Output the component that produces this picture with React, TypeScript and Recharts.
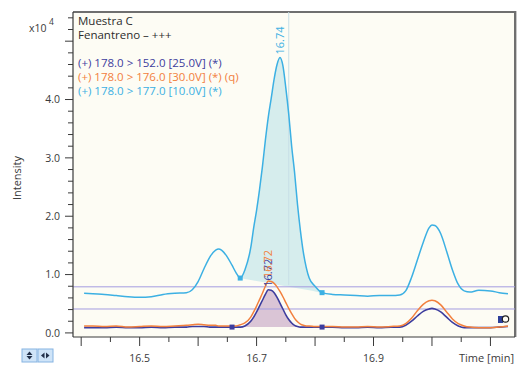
import React from "react"
import { ComposedChart, Line, Area, Scatter, XAxis, YAxis, ReferenceLine } from "recharts"

// retention time axis (min)
const time = [
  16.405, 16.42, 16.44, 16.46, 16.48, 16.5, 16.52, 16.54, 16.56, 16.58,
  16.59, 16.6, 16.61, 16.62, 16.63, 16.635, 16.64, 16.65, 16.658, 16.665,
  16.672, 16.68, 16.69, 16.695, 16.7, 16.705, 16.71, 16.715, 16.72, 16.725,
  16.73, 16.735, 16.74, 16.745, 16.75, 16.755, 16.76, 16.765, 16.77, 16.775,
  16.78, 16.785, 16.79, 16.8, 16.812, 16.83, 16.85, 16.87, 16.89, 16.91,
  16.93, 16.945, 16.955, 16.965, 16.975, 16.985, 16.995, 17.0, 17.005, 17.015,
  17.025, 17.035, 17.045, 17.055, 17.065, 17.08, 17.1, 17.115, 17.13,
]

// intensities, x10^4
const ion177 = [
  0.68, 0.67, 0.66, 0.64, 0.62, 0.61, 0.62, 0.66, 0.68, 0.69,
  0.74, 0.88, 1.1, 1.3, 1.42, 1.44, 1.42, 1.3, 1.16, 1.03,
  0.94, 1.08, 1.46, 1.8, 2.1, 2.45, 2.85, 3.3, 3.7, 4.02,
  4.35, 4.6, 4.72, 4.58, 4.2, 3.75, 3.2, 2.75, 2.2, 1.75,
  1.38, 1.12, 0.94, 0.8, 0.69, 0.66, 0.65, 0.64, 0.63, 0.64,
  0.64, 0.65, 0.72, 0.95, 1.25, 1.55, 1.8, 1.85, 1.84, 1.7,
  1.4, 1.08, 0.83, 0.72, 0.7, 0.73, 0.72, 0.69, 0.67,
]
const ion176 = [
  0.12, 0.12, 0.11, 0.12, 0.1, 0.11, 0.12, 0.11, 0.12, 0.13,
  0.14, 0.15, 0.14, 0.13, 0.13, 0.12, 0.12, 0.12, 0.12, 0.12,
  0.14, 0.17, 0.27, 0.36, 0.46, 0.57, 0.68, 0.8, 0.89, 0.88,
  0.85, 0.79, 0.71, 0.62, 0.52, 0.42, 0.33, 0.25, 0.19, 0.15,
  0.13, 0.12, 0.12, 0.11, 0.11, 0.11, 0.1, 0.1, 0.11, 0.1,
  0.11, 0.12, 0.16, 0.25, 0.38, 0.49, 0.55, 0.56, 0.55, 0.48,
  0.36, 0.24, 0.16, 0.12, 0.1, 0.09, 0.09, 0.1, 0.12,
]
const ion152 = [
  0.09, 0.09, 0.09, 0.1, 0.09, 0.09, 0.1, 0.09, 0.1, 0.1,
  0.11, 0.11, 0.11, 0.1, 0.1, 0.1, 0.1, 0.1, 0.1, 0.1,
  0.1, 0.12, 0.2, 0.27, 0.36, 0.46, 0.56, 0.66, 0.74, 0.73,
  0.69, 0.61, 0.51, 0.41, 0.31, 0.23, 0.17, 0.13, 0.11, 0.1,
  0.1, 0.1, 0.1, 0.1, 0.1, 0.1, 0.09, 0.09, 0.1, 0.09,
  0.1, 0.1, 0.13, 0.2, 0.29, 0.37, 0.41, 0.42, 0.41, 0.36,
  0.27, 0.18, 0.12, 0.09, 0.09, 0.09, 0.09, 0.1, 0.11,
]

// integration start/end points
const baseTimes177 = [16.672, 16.812]
const baseTimes152 = [16.658, 16.812]
const thresholds = [0.79, 0.41]
const rtMarker = 16.755

const xTicks = [16.4, 16.45, 16.5, 16.55, 16.6, 16.65, 16.7, 16.75, 16.8, 16.85, 16.9, 16.95, 17.0, 17.05, 17.1]
const xTickLabels = ["16.5", "16.7", "16.9"]
const yTicks = [0, 0.2, 0.4, 0.6, 0.8, 1, 1.2, 1.4, 1.6, 1.8, 2, 2.2, 2.4, 2.6, 2.8, 3, 3.2, 3.4, 3.6, 3.8, 4, 4.2, 4.4, 4.6, 4.8, 5, 5.2, 5.4]
const yTickLabels = ["0.0", "1.0", "2.0", "3.0", "4.0"]

const C177 = "#3cb0e3"
const C176 = "#f2803e"
const C152 = "#3d3d9e"
const FILL177 = "#d6eded"
const FILL152 = "#dac5d6"
const THRESH = "#a49ce0"
const INK = "#3a3a3a"
const FONT = '"Open Sans", "DejaVu Sans", sans-serif'

const legendLines = [
  { text: "(+) 178.0 > 152.0 [25.0V] (*)", color: C152 },
  { text: "(+) 178.0 > 176.0 [30.0V] (*) (q)", color: C176 },
  { text: "(+) 178.0 > 177.0 [10.0V] (*)", color: C177 },
]

const idx = (t: number) => time.findIndex((x) => Math.abs(x - t) < 1e-9)

// shaded peak area: curve down to the straight baseline between the two markers
const band = (series: number[], times: number[]) => {
  const [t0, t1] = times
  const v0 = series[idx(t0)]
  const v1 = series[idx(t1)]
  return time.map((t, i) =>
    t < t0 - 1e-9 || t > t1 + 1e-9 ? null : [v0 + ((v1 - v0) * (t - t0)) / (t1 - t0), series[i]]
  )
}

const band177 = band(ion177, baseTimes177)
const band152 = band(ion152, baseTimes152)

const rows = time.map((t, i) => ({
  t,
  ion177: ion177[i],
  ion176: ion176[i],
  ion152: ion152[i],
  band177: band177[i],
  band152: band152[i],
}))

const markers177 = baseTimes177.map((t) => ({ t, v: ion177[idx(t)] }))
const markers152 = baseTimes152.map((t) => ({ t, v: ion152[idx(t)] }))

// apex of the main peak of each trace, in the 16.6 - 16.8 window
const apex = (series: number[], color: string) => {
  let best = -1
  time.forEach((t, i) => {
    if (t > 16.6 && t < 16.8 && (best < 0 || series[i] > series[best])) best = i
  })
  return { t: time[best], v: series[best], color }
}
const peakLabels = [apex(ion177, C177), apex(ion152, C152), apex(ion176, C176)]

const XTick = (props: any) => {
  const { x, y, payload } = props
  const v = payload.value
  const major = Math.abs(v * 10 - Math.round(v * 10)) < 1e-6
  const label = xTickLabels.find((l) => Math.abs(parseFloat(l) - v) < 1e-6)
  return (
    <g>
      <line x1={x} x2={x} y1={y} y2={y + (major ? 9 : 5)} stroke={INK} strokeWidth={1} />
      {label && (
        <text x={x} y={y + 25} textAnchor="middle" fontSize={10.5} fill={INK} fontFamily={FONT}>
          {label}
        </text>
      )}
    </g>
  )
}

const YTick = (props: any) => {
  const { x, y, payload } = props
  const v = payload.value
  const major = Math.abs(v - Math.round(v)) < 1e-6
  const label = yTickLabels.find((l) => Math.abs(parseFloat(l) - v) < 1e-6)
  return (
    <g>
      <line x1={x - (major ? 8 : 5)} x2={x} y1={y} y2={y} stroke={INK} strokeWidth={1} />
      {label && (
        <text x={x - 13} y={y} dy="0.35em" textAnchor="end" fontSize={10.5} fill={INK} fontFamily={FONT}>
          {label}
        </text>
      )}
    </g>
  )
}

const SquareMarker = (color: string) => (props: any) => {
  const { cx, cy } = props
  return <rect x={cx - 2.5} y={cy - 2.5} width={5} height={5} fill={color} />
}

const PeakLabel = (props: any) => {
  const { cx, cy, payload } = props
  const y0 = cy - 3
  return (
    <text
      x={cx}
      y={y0}
      dy="0.35em"
      transform={`rotate(-90 ${cx} ${y0})`}
      textAnchor="start"
      fontSize={11}
      fill={payload.color}
      fontFamily={FONT}
    >
      {payload.t.toFixed(2)}
    </text>
  )
}

export default function App() {
  return (
    <div style={{ position: "fixed", left: 0, top: 0, width: 522, height: 370, background: "#fff" }}>
      <div
        style={{
          position: "absolute",
          left: 73,
          top: 11,
          width: 441,
          height: 324,
          background: "#fdfcf4",
          borderTop: "2px solid #6f6f6f",
          borderRight: "2px solid #6f6f6f",
          boxShadow: "1px 0 0 #c8c8c8",
        }}
      />
      <div style={{ position: "absolute", left: 0, top: 0 }}>
        <ComposedChart width={522} height={370} data={rows} margin={{ top: 12, right: 7, bottom: 0, left: 0 }}>
          <XAxis
            dataKey="t"
            type="number"
            domain={[16.386, 17.142]}
            allowDataOverflow
            ticks={xTicks}
            interval={0}
            height={33}
            tickSize={0}
            tickMargin={0}
            tickLine={false}
            axisLine={{ stroke: INK, strokeWidth: 1.2 }}
            tick={<XTick />}
          />
          <YAxis
            type="number"
            domain={[-0.07, 5.5]}
            allowDataOverflow
            ticks={yTicks}
            interval={0}
            width={73}
            tickSize={0}
            tickMargin={0}
            tickLine={false}
            axisLine={{ stroke: INK, strokeWidth: 1.2 }}
            tick={<YTick />}
          />
          <Area
            dataKey="band177"
            type="monotone"
            stroke="none"
            fill={FILL177}
            fillOpacity={1}
            isAnimationActive={false}
          />
          <Area
            dataKey="band152"
            type="monotone"
            stroke="none"
            fill={FILL152}
            fillOpacity={1}
            isAnimationActive={false}
          />
          <ReferenceLine
            segment={[
              { x: rtMarker, y: 0.82 },
              { x: rtMarker, y: 5.5 },
            ]}
            stroke="#c9dfe6"
            strokeWidth={1}
          />
          {thresholds.map((v) => (
            <ReferenceLine key={v} y={v} stroke={THRESH} strokeWidth={1} />
          ))}
          <Line dataKey="ion177" type="monotone" stroke={C177} strokeWidth={1.5} dot={false} isAnimationActive={false} />
          <Line dataKey="ion152" type="monotone" stroke={C152} strokeWidth={1.6} dot={false} isAnimationActive={false} />
          <Line dataKey="ion176" type="monotone" stroke={C176} strokeWidth={1.5} dot={false} isAnimationActive={false} />
          <Scatter data={markers177} dataKey="v" shape={SquareMarker(C177)} isAnimationActive={false} />
          <Scatter data={markers152} dataKey="v" shape={SquareMarker(C152)} isAnimationActive={false} />
          <Scatter data={peakLabels} dataKey="v" shape={<PeakLabel />} isAnimationActive={false} />
        </ComposedChart>
      </div>
      <svg
        width={522}
        height={370}
        style={{ position: "absolute", left: 0, top: 0, pointerEvents: "none" }}
        fontFamily={FONT}
      >
        <text x={29} y={32} fontSize={10.5} fill={INK}>
          x10
        </text>
        <text x={49} y={25} fontSize={8.5} fill={INK}>
          4
        </text>
        <text x={21} y={178} fontSize={11} fill={INK} textAnchor="middle" transform="rotate(-90 21 178)">
          Intensity
        </text>
        <text x={78} y={25} fontSize={11.5} fill="#2c2c2c">
          Muestra C
        </text>
        <text x={78} y={38.5} fontSize={11.5} fill="#2c2c2c">
          Fenantreno – +++
        </text>
        {legendLines.map((l, i) => (
          <text key={l.text} x={78} y={66.5 + i * 14.2} fontSize={11.5} fill={l.color}>
            {l.text}
          </text>
        ))}
        <text x={514} y={362} fontSize={11} fill={INK} textAnchor="end">
          Time [min]
        </text>
        {/* end-of-trace flag */}
        <rect x={498} y={316} width={5} height={7} fill="#2d3f9a" />
        <circle cx={505.5} cy={319} r={3.2} fill="none" stroke="#222" strokeWidth={1.2} />
        <rect x={22} y={349} width={15} height={13} fill="#cfe4f8" stroke="#86b4e2" />
        <polygon points="29.5,351.5 32.5,355 26.5,355" fill="#22304a" />
        <polygon points="26.5,356 32.5,356 29.5,359.5" fill="#22304a" />
        <rect x={38} y={349} width={15} height={13} fill="#cfe4f8" stroke="#86b4e2" />
        <polygon points="41,355.5 44.5,352.5 44.5,358.5" fill="#22304a" />
        <polygon points="46,352.5 49.5,355.5 46,358.5" fill="#22304a" />
      </svg>
    </div>
  )
}
